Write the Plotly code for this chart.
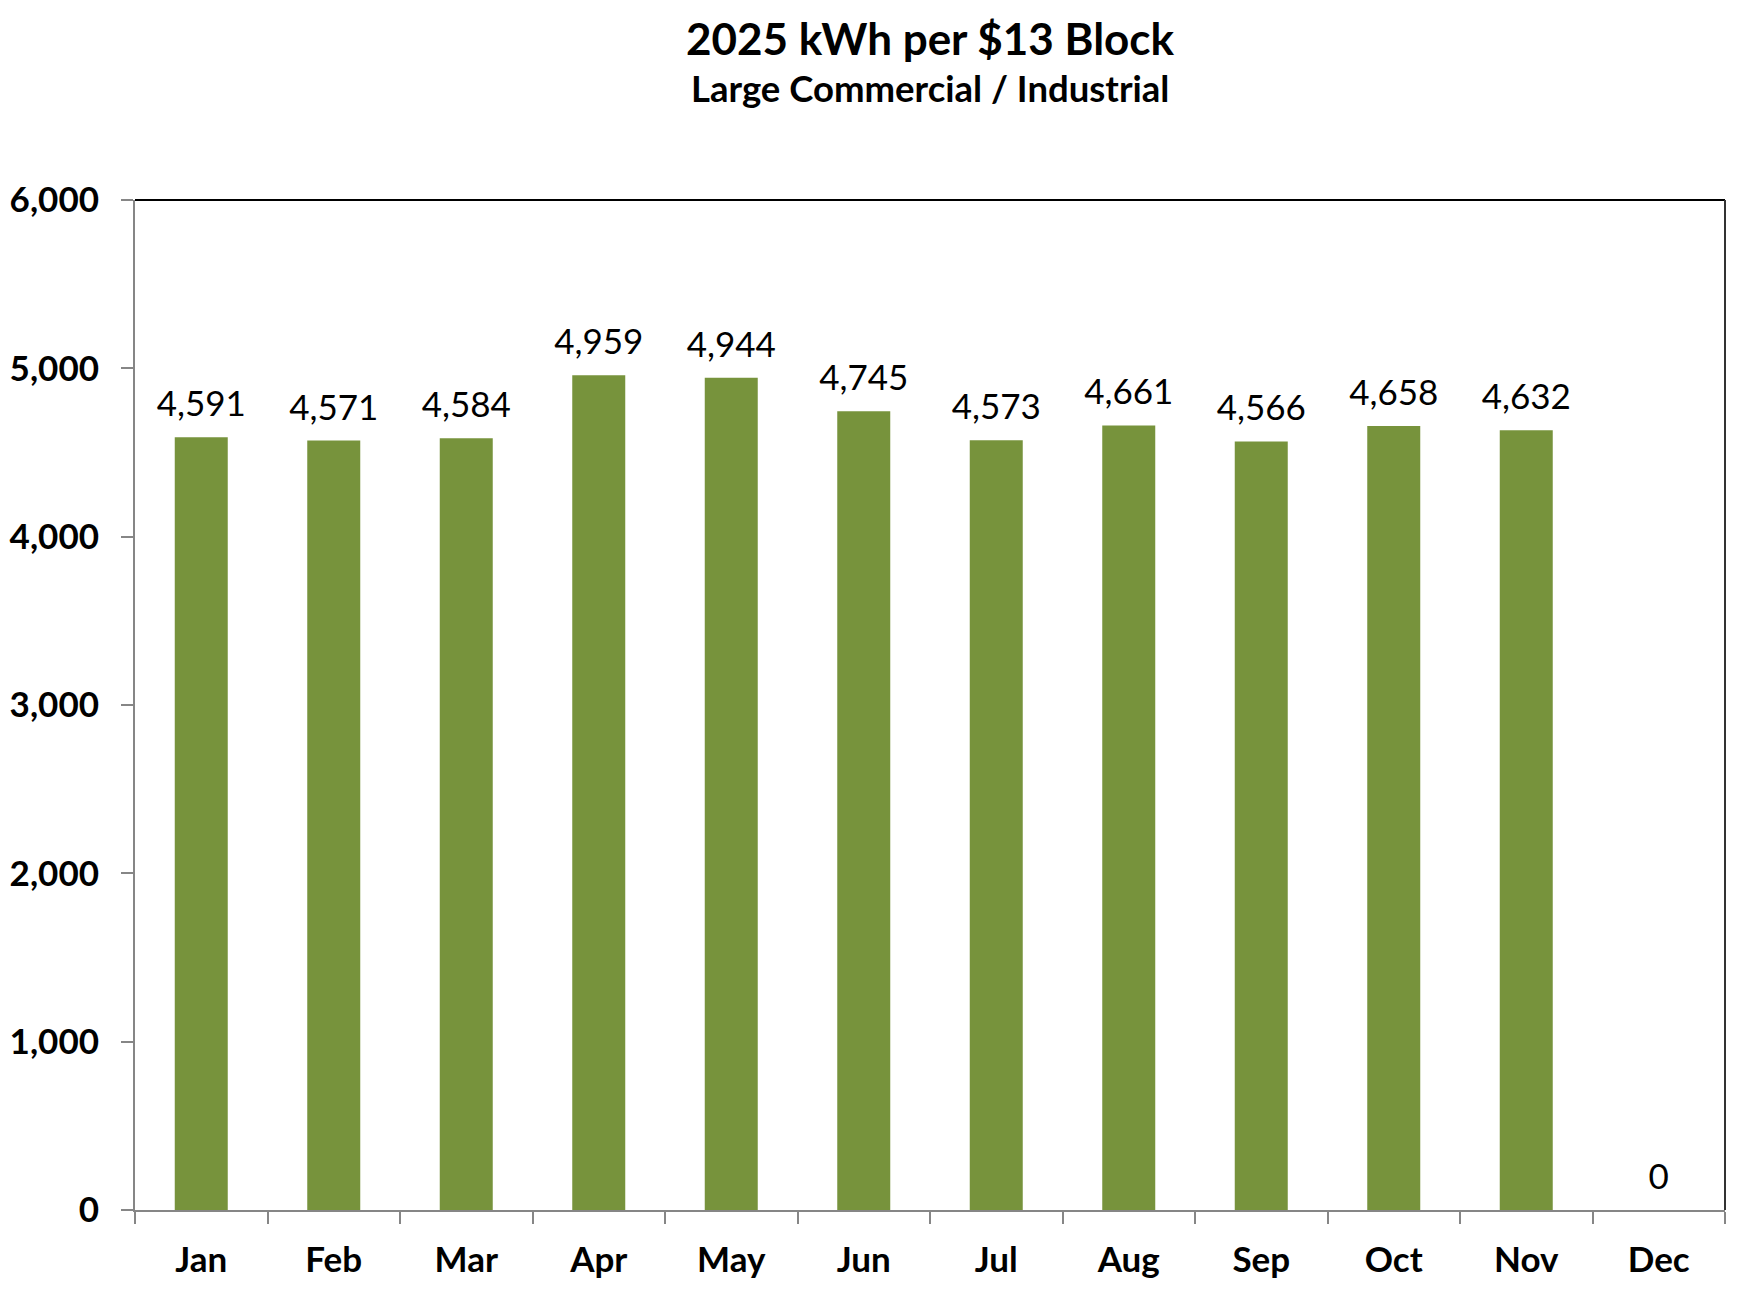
import plotly.graph_objects as go

months = ["Jan", "Feb", "Mar", "Apr", "May", "Jun", "Jul", "Aug", "Sep", "Oct", "Nov", "Dec"]
kwh = [4591, 4571, 4584, 4959, 4944, 4745, 4573, 4661, 4566, 4658, 4632, 0]
y_ticks = [0, 1000, 2000, 3000, 4000, 5000, 6000]
y_tick_labels = ["0", "1,000", "2,000", "3,000", "4,000", "5,000", "6,000"]

title_text = "2025 kWh per $13 Block"
subtitle_text = "Large Commercial / Industrial"

FONT = "Lato"
BAR = "#77933C"
AXIS = "#868686"

fig = go.Figure()
fig.add_trace(go.Bar(
    x=months, y=kwh,
    marker=dict(color=BAR, line=dict(width=0)),
    width=0.4,
    hoverinfo="skip",
))
# value labels, placed above each bar
fig.add_trace(go.Scatter(
    x=months, y=kwh,
    mode="markers+text",
    marker=dict(size=18, color="rgba(0,0,0,0)"),
    text=[f"{v:,}" for v in kwh],
    textposition="top center",
    textfont=dict(family=FONT, size=35, color="#000000"),
    cliponaxis=False,
    hoverinfo="skip",
))

PB = 1202  # plot bottom in figure px
PH = 1010  # plot height

fig.update_layout(
    width=1747, height=1297,
    margin=dict(l=127, r=30, t=192, b=95),
    paper_bgcolor="white", plot_bgcolor="white",
    showlegend=False,
    font=dict(family=FONT, color="#000000"),
    annotations=[
        dict(text="<b>" + title_text + "</b>", xref="paper", yref="paper",
             x=0.5, y=(PB - 30) / PH, xanchor="center", yanchor="middle",
             showarrow=False, font=dict(family=FONT, size=44, color="#000000")),
        dict(text="<b>" + subtitle_text + "</b>", xref="paper", yref="paper",
             x=0.5, y=(PB - 80) / PH, xanchor="center", yanchor="middle",
             showarrow=False, font=dict(family=FONT, size=36.5, color="#000000")),
    ],
    shapes=[
        dict(type="line", xref="paper", yref="paper", x0=0, x1=1, y0=1, y1=1,
             line=dict(color="#000000", width=2)),
        dict(type="line", xref="paper", yref="paper", x0=1, x1=1, y0=0, y1=1,
             line=dict(color="#333333", width=2)),
    ],
)

fig.update_xaxes(
    type="category", range=[-0.5, 11.5], automargin=False,
    showline=True, linecolor=AXIS, linewidth=2,
    ticks="outside", tickson="boundaries", ticklen=12, tickcolor=AXIS, tickwidth=2,
    tickfont=dict(family=FONT, size=35, color="#000000", weight="bold"),
    ticklabelstandoff=18,
    showgrid=False, zeroline=False,
)
fig.update_yaxes(
    range=[0, 6000], automargin=False,
    tickvals=y_ticks, ticktext=y_tick_labels,
    showline=True, linecolor=AXIS, linewidth=2,
    ticks="outside", ticklen=12, tickcolor=AXIS, tickwidth=2,
    tickfont=dict(family=FONT, size=35, color="#000000", weight="bold"),
    ticklabelstandoff=15,
    showgrid=False, zeroline=False,
)

fig.write_html("out.html")
